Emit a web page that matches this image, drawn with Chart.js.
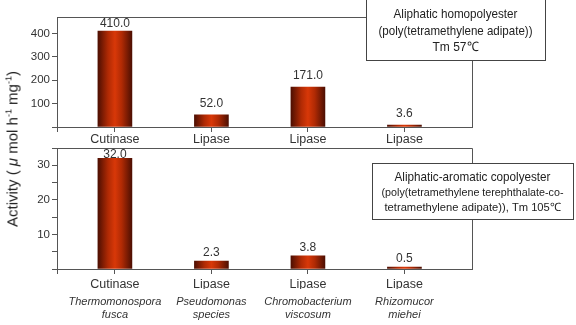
<!DOCTYPE html>
<html>
<head>
<meta charset="utf-8">
<script src="https://cdn.jsdelivr.net/npm/chart.js@4.4.0/dist/chart.umd.min.js"></script>
<style>
  body { margin: 0; background: #fff; }
  #wrap { position: relative; width: 576px; height: 325px; overflow: hidden; }
  canvas { position: absolute; left: 0; top: 0; }
  #ytitle {
    position: absolute; left: 12px; top: 149px;
    transform: translate(-50%, -50%) rotate(-90deg);
    white-space: nowrap; font: 15px "Liberation Sans", Arial, sans-serif; color: #222;
  }
  #ytitle sup { font-size: 9px; }
</style>
</head>
<body>
<div id="wrap">
  <canvas id="bottomChart" width="576" height="325"></canvas>
  <canvas id="topChart" width="576" height="325"></canvas>
  <div id="ytitle">Activity ( <i>μ</i> mol h<sup>-1</sup> mg<sup>-1</sup>)</div>
</div>
<script>
const categories = ['Cutinase', 'Lipase', 'Lipase', 'Lipase'];
const species = [
    ['Thermomonospora', 'fusca'],
    ['Pseudomonas', 'species'],
    ['Chromobacterium', 'viscosum'],
    ['Rhizomucor', 'miehei']
];
const homoValues = [410.0, 52.0, 171.0, 3.6];
const copolyValues = [32.0, 2.3, 3.8, 0.5];
const homoTicks = [100, 200, 300, 400];
const copolyTicks = [10, 20, 30];
const homoBox = ['Aliphatic homopolyester', '(poly(tetramethylene adipate))', 'Tm 57℃'];
const copolyBox = ['Aliphatic-aromatic copolyester', '(poly(tetramethylene terephthalate-co-', 'tetramethylene adipate)), Tm 105℃'];

const FONT = '"Liberation Sans", Arial, sans-serif';
const AXIS = '#555';

function barGradient(ctx) {
    const chart = ctx.chart;
    if (!chart.chartArea || ctx.dataIndex === undefined) {
        return '#c03000';
    }
    const px = chart.scales.x.getPixelForValue(ctx.dataIndex);
    const g = chart.ctx.createLinearGradient(px - 17, 0, px + 17, 0);
    g.addColorStop(0, '#4e0f02');
    g.addColorStop(0.3, '#b02a04');
    g.addColorStop(0.5, '#d83808');
    g.addColorStop(0.7, '#b02a04');
    g.addColorStop(1, '#4e0f02');
    return g;
}

// value labels, frame, annotation box and species lines
const decor = {
    id: 'decor',
    afterDatasetsDraw(chart, args, o) {
        const ctx = chart.ctx;
        const a = chart.chartArea;
        const values = chart.data.datasets[0].data;
        ctx.save();
        ctx.fillStyle = '#333';
        ctx.font = '12px ' + FONT;
        ctx.textAlign = 'center';
        ctx.textBaseline = 'bottom';
        chart.getDatasetMeta(0).data.forEach((bar, i) => {
            const y = Math.max(bar.y - o.labelGap, a.top + 13);
            ctx.fillText(values[i].y.toFixed(1), bar.x, y);
        });
        // top and right frame lines, plus the little tick below the corner
        ctx.strokeStyle = AXIS;
        ctx.lineWidth = 1;
        ctx.beginPath();
        ctx.moveTo(a.left, a.top + 0.5);
        ctx.lineTo(a.right + 0.5, a.top + 0.5);
        ctx.lineTo(a.right + 0.5, a.bottom);
        ctx.moveTo(a.left + 0.5, a.bottom);
        ctx.lineTo(a.left + 0.5, a.bottom + 5);
        ctx.stroke();
        // annotation box
        const b = o.box;
        ctx.fillStyle = '#fff';
        ctx.fillRect(b.x1, b.y1, b.x2 - b.x1, b.y2 - b.y1);
        ctx.strokeStyle = '#444';
        ctx.strokeRect(b.x1 + 0.5, b.y1 + 0.5, b.x2 - b.x1, b.y2 - b.y1);
        ctx.fillStyle = '#222';
        ctx.textBaseline = 'middle';
        const cx = (b.x1 + b.x2) / 2;
        o.lines.forEach((t, i) => {
            const s = b.styles[i];
            ctx.font = s.size + 'px ' + FONT;
            ctx.fillText(t, cx, s.y, s.w);
        });
        // species names under the category labels
        if (o.species) {
            ctx.font = 'italic 11px ' + FONT;
            ctx.fillStyle = '#333';
            o.species.forEach((lines, i) => {
                const px = chart.scales.x.getPixelForValue(i);
                lines.forEach((t, j) => ctx.fillText(t, px, 302 + j * 13, 94));
            });
        }
        ctx.restore();
    }
};

function makeChart(id, values, cfg) {
    return new Chart(document.getElementById(id), {
        type: 'bar',
        data: {
            datasets: [{
                data: values.map((v, i) => ({ x: i, y: v })),
                backgroundColor: barGradient,
                borderWidth: 0,
                barThickness: 34,
                minBarLength: 2
            }]
        },
        options: {
            responsive: false,
            animation: false,
            layout: { padding: cfg.padding },
            plugins: {
                legend: { display: false },
                tooltip: { enabled: false },
                decor: { box: cfg.box, lines: cfg.lines, species: cfg.species, labelGap: cfg.labelGap }
            },
            scales: {
                x: {
                    type: 'linear',
                    min: -0.6,
                    max: 3.7,
                    offset: false,
                    afterFit: s => { s.height = 20; },
                    afterBuildTicks: s => { s.ticks = s.ticks.filter(t => Number.isInteger(t.value)); },
                    grid: { offset: false, drawOnChartArea: false, tickLength: 5, color: AXIS },
                    border: { color: AXIS },
                    ticks: {
                        stepSize: 1,
                        includeBounds: false,
                        maxRotation: 0,
                        autoSkip: false,
                        padding: cfg.xPad,
                        color: '#333',
                        font: { family: FONT, size: 12.5 },
                        callback: v => categories[v]
                    }
                },
                y: {
                    min: 0,
                    max: cfg.max,
                    afterFit: s => { s.width = 57; },
                    grid: { drawOnChartArea: false, tickLength: 5, color: AXIS },
                    border: { color: AXIS },
                    ticks: {
                        stepSize: cfg.step,
                        includeBounds: false,
                        autoSkip: false,
                        padding: 2,
                        color: '#333',
                        font: { family: FONT, size: 11.5 },
                        callback: v => cfg.labels.includes(v) ? String(v) : ' '
                    }
                }
            }
        },
        plugins: [decor]
    });
}

makeChart('topChart', homoValues, {
    padding: { left: 0, top: 17, right: 104, bottom: 178 },
    max: 470, step: 100, labels: homoTicks, xPad: 0, labelGap: 5,
    lines: homoBox,
    box: {
        x1: 366, y1: -1, x2: 545, y2: 60,
        styles: [
            { size: 13, y: 14, w: 124 },
            { size: 13, y: 31, w: 154 },
            { size: 13, y: 47, w: 46 }
        ]
    }
});

makeChart('bottomChart', copolyValues, {
    padding: { left: 0, top: 148, right: 104, bottom: 36 },
    max: 35, step: 5, labels: copolyTicks, xPad: 3, labelGap: 2,
    lines: copolyBox,
    species: species,
    box: {
        x1: 372, y1: 163, x2: 573, y2: 219,
        styles: [
            { size: 13, y: 177, w: 156 },
            { size: 11.5, y: 193, w: 182 },
            { size: 11.5, y: 208, w: 176 }
        ]
    }
});
</script>
</body>
</html>
